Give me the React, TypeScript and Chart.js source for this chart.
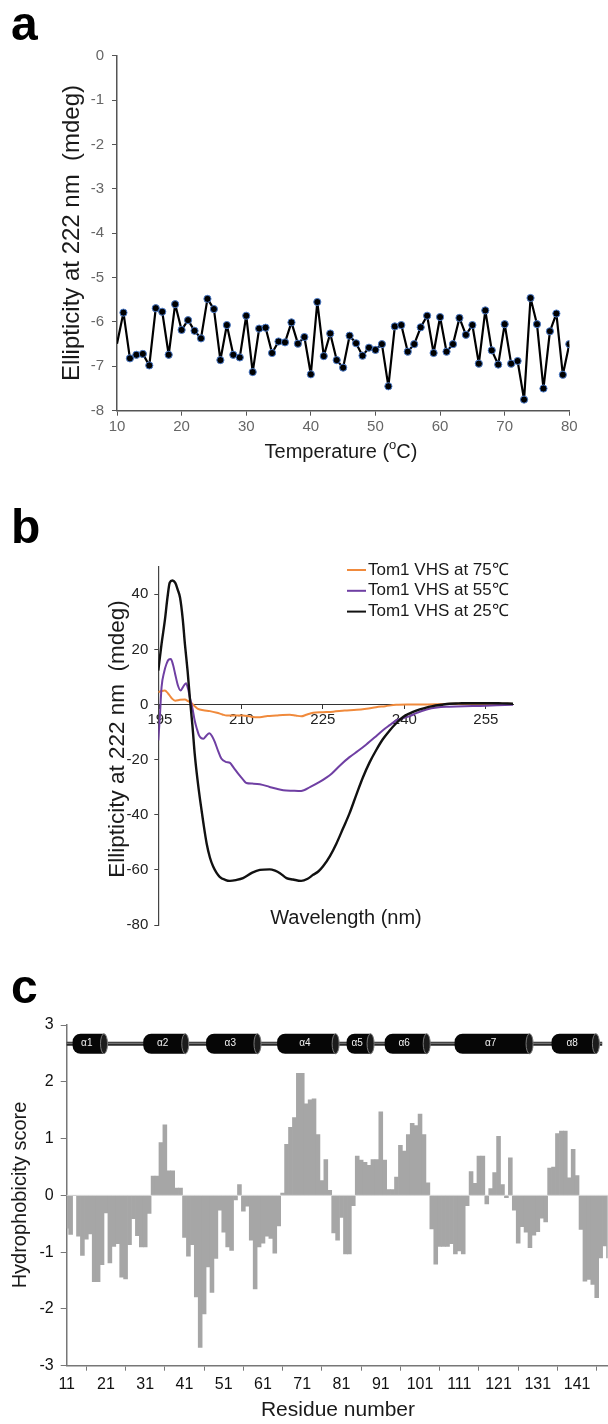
import React, { useEffect, useRef } from 'react';
import { Chart, registerables } from 'chart.js';

Chart.register(...registerables);

const FONT = '"Liberation Sans", Arial, Helvetica, sans-serif';
Chart.defaults.font.family = FONT;

// ---------------- Panel a : thermal scan at 222 nm ----------------
const temperatureC = [
  10, 11, 12, 13, 14, 15, 16, 17, 18, 19, 20, 21, 22, 23, 24, 25, 26, 27, 28, 29,
  30, 31, 32, 33, 34, 35, 36, 37, 38, 39, 40, 41, 42, 43, 44, 45, 46, 47, 48, 49,
  50, 51, 52, 53, 54, 55, 56, 57, 58, 59, 60, 61, 62, 63, 64, 65, 66, 67, 68, 69,
  70, 71, 72, 73, 74, 75, 76, 77, 78, 79, 80,
];
const ellipticity222 = [
  -6.49, -5.79, -6.82, -6.74, -6.72, -6.98, -5.69, -5.77, -6.74, -5.6, -6.18, -5.96, -6.2, -6.37, -5.48, -5.71, -6.86, -6.07, -6.74, -6.8,
  -5.86, -7.13, -6.15, -6.13, -6.7, -6.44, -6.46, -6.01, -6.49, -6.34, -7.18, -5.55, -6.77, -6.26, -6.86, -7.03, -6.31, -6.48, -6.76, -6.58,
  -6.63, -6.5, -7.45, -6.1, -6.07, -6.67, -6.5, -6.12, -5.86, -6.7, -5.89, -6.67, -6.5, -5.91, -6.29, -6.07, -6.94, -5.74, -6.64, -6.96,
  -6.05, -6.94, -6.88, -7.75, -5.46, -6.05, -7.5, -6.21, -5.81, -7.19, -6.5,
];
const aTicksX = [10, 20, 30, 40, 50, 60, 70, 80];
const aTicksY = [0, -1, -2, -3, -4, -5, -6, -7, -8];

// ---------------- Panel b : CD spectra ----------------
const cdLabels = ['Tom1 VHS at 75\u2103', 'Tom1 VHS at 55\u2103', 'Tom1 VHS at 25\u2103'];
const cdColors = ['#f08a3c', '#6f3fa3', '#111111'];

const wavelength75 = [
  194.7, 195.3, 195.9, 196.5, 197.2, 197.8, 198.7, 199.6, 200.2, 200.8, 201.4, 202.0, 203.0, 204.2, 205.5, 206.5,
  207.3, 208.5, 210.3, 211.5, 212.5, 213.4, 214.8, 216.4, 217.6, 218.9, 220.0, 221.0, 222.1, 223.2, 225.0, 226.9,
  229.0, 231.2, 233.0, 234.8, 236.5, 238.5, 240.5, 243.0, 246.0, 249.0, 252.0, 255.0, 258.0, 260.0,
];
const ellipticity75 = [
  4.5, 4.9, 5.1, 4.0, 2.2, 1.4, 1.7, 1.8, 1.2, 0.5, -0.6, -1.6, -2.1, -2.4, -3.0, -3.6,
  -4.0, -4.0, -4.0, -4.3, -4.6, -4.6, -4.2, -4.0, -3.8, -3.7, -4.0, -4.3, -3.6, -3.0, -2.8, -2.6,
  -2.2, -1.9, -1.5, -1.0, -0.6, -0.1, 0.0, 0.0, 0.1, 0.3, 0.4, 0.4, 0.3, 0.2,
];
const wavelength55 = [
  194.7, 195.0, 195.3, 195.8, 196.2, 196.6, 197.0, 197.4, 197.8, 198.3, 198.8, 199.3, 199.8, 200.2, 200.5, 201.0,
  201.4, 201.8, 202.2, 202.6, 203.0, 203.5, 204.1, 204.6, 205.1, 205.7, 206.3, 207.1, 207.9, 208.6, 209.4, 210.2,
  210.9, 212.0, 213.4, 215.2, 216.5, 217.7, 219.5, 221.0, 222.7, 224.4, 225.5, 226.6, 228.2, 229.9, 231.5, 233.0,
  234.5, 236.0, 237.3, 238.5, 240.0, 241.0, 242.2, 244.1, 246.0, 248.3, 251.0, 254.0, 257.0, 260.0,
];
const ellipticity55 = [
  -13.0, -4.0, 6.3, 12.0, 14.7, 16.3, 16.5, 14.5, 11.1, 7.0, 5.1, 6.5, 7.7, 5.5, 2.6, -1.5,
  -5.8, -8.8, -11.2, -12.2, -12.4, -11.4, -10.4, -11.5, -13.6, -16.8, -19.6, -20.8, -21.2, -23.0, -25.1, -27.0,
  -28.5, -28.7, -28.9, -29.9, -30.6, -31.1, -31.3, -31.4, -29.9, -28.1, -26.7, -25.1, -22.0, -19.1, -16.8, -14.5,
  -12.0, -9.4, -7.5, -5.8, -4.8, -4.2, -3.1, -1.8, -1.1, -0.8, -0.6, -0.5, -0.3, -0.1,
];
const wavelength25 = [
  194.7, 195.3, 195.9, 196.4, 196.8, 197.3, 197.8, 198.3, 198.7, 199.2, 199.6, 200.1, 200.5, 201.0, 201.4, 201.9,
  202.4, 203.0, 203.6, 204.2, 204.8, 205.4, 206.0, 207.0, 207.9, 209.0, 210.3, 212.0, 213.4, 215.2, 216.2, 217.1,
  218.3, 219.5, 221.0, 222.2, 223.2, 224.2, 225.0, 226.3, 227.5, 228.7, 229.9, 231.2, 232.4, 233.6, 234.8, 236.0,
  237.3, 238.5, 239.7, 241.0, 242.2, 243.7, 245.2, 246.8, 248.3, 250.0, 252.0, 254.0, 256.0, 258.0, 260.0,
];
const ellipticity25 = [
  12.3, 22.0, 30.4, 39.0, 44.2, 45.0, 44.2, 41.5, 38.8, 31.0, 21.9, 12.0, 2.6, -8.0, -17.8, -27.0,
  -34.7, -43.0, -50.4, -55.5, -58.8, -61.0, -62.5, -63.6, -64.0, -63.7, -63.0, -61.0, -60.0, -59.8, -60.3, -61.2,
  -63.0, -63.5, -64.0, -63.2, -61.8, -60.5, -58.8, -55.0, -50.4, -45.0, -39.5, -32.5, -26.3, -21.0, -16.6, -12.7,
  -9.4, -6.8, -4.6, -3.2, -2.2, -1.3, -0.6, -0.1, 0.3, 0.4, 0.5, 0.5, 0.5, 0.4, 0.3,
];
const bTicksX = [195, 210, 225, 240, 255];
const bTicksY = [-80, -60, -40, -20, 0, 20, 40];

// ---------------- Panel c : hydrophobicity ----------------
const residueNumber = [
  11, 12, 13, 14, 15, 16, 17, 18, 19, 20, 21, 22, 23, 24, 25, 26, 27, 28, 29, 30,
  31, 32, 33, 34, 35, 36, 37, 38, 39, 40, 41, 42, 43, 44, 45, 46, 47, 48, 49, 50,
  51, 52, 53, 54, 55, 56, 57, 58, 59, 60, 61, 62, 63, 64, 65, 66, 67, 68, 69, 70,
  71, 72, 73, 74, 75, 76, 77, 78, 79, 80, 81, 82, 83, 84, 85, 86, 87, 88, 89, 90,
  91, 92, 93, 94, 95, 96, 97, 98, 99, 100, 101, 102, 103, 104, 105, 106, 107, 108, 109, 110,
  111, 112, 113, 114, 115, 116, 117, 118, 119, 120, 121, 122, 123, 124, 125, 126, 127, 128, 129, 130,
  131, 132, 133, 134, 135, 136, 137, 138, 139, 140, 141, 142, 143, 144, 145, 146, 147, 148, 149,
];
const hydrophobicity = [
  -0.58, -0.69, 0, -0.72, -1.06, -0.77, -0.68, -1.52, -1.52, -1.22, -0.31, -1.19, -0.9, -0.85, -1.44, -1.47, -0.87, -0.41, -0.71, -0.91,
  -0.91, -0.32, 0.34, 0.34, 0.93, 1.24, 0.43, 0.43, 0.13, 0.13, -0.74, -1.07, -0.87, -1.79, -2.68, -2.09, -1.26, -1.71, -1.11, -0.26,
  -0.65, -0.91, -0.97, -0.08, 0.19, -0.28, -0.19, -0.79, -1.65, -0.91, -0.84, -0.72, -0.76, -1.02, -0.54, 0.04, 0.9, 1.2, 1.37, 2.15,
  2.15, 1.61, 1.68, 1.7, 1.07, 0.26, 0.63, 0.09, -0.66, -0.79, -0.39, -1.03, -1.03, -0.18, 0.69, 0.62, 0.58, 0.53, 0.63, 0.63,
  1.47, 0.62, 0.1, 0.1, 0.32, 0.88, 0.78, 1.07, 1.27, 1.23, 1.43, 1.07, 0.22, -0.59, -1.21, -0.9, -0.9, -0.9, -0.85, -1.03,
  -0.98, -1.03, -0.18, 0.42, 0.21, 0.69, 0.69, -0.15, 0.12, 0.4, 1.04, 0.19, -0.04, 0.66, -0.26, -0.84, -0.55, -0.65, -0.92, -0.7,
  -0.64, -0.4, -0.47, 0.48, 0.5, 1.09, 1.13, 1.13, 0.31, 0.81, 0.35, -0.6, -1.51, -1.48, -1.57, -1.8, -1.1, -0.89, -1.1,
];
const cTicksX = [11, 21, 31, 41, 51, 61, 71, 81, 91, 101, 111, 121, 131, 141];
const cTicksY = [-3, -2, -1, 0, 1, 2, 3];
const helixLabels = ['\u03b11', '\u03b12', '\u03b13', '\u03b14', '\u03b15', '\u03b16', '\u03b17', '\u03b18'];
const helixStart = [12.5, 30.5, 46.5, 64.6, 82.3, 92.0, 109.8, 134.5];
const helixEnd = [20.5, 41.2, 59.6, 79.5, 88.4, 102.7, 128.9, 145.8];
const rodStart = 11;
const rodEnd = 147.4;
const rodLevel = 2.67;

// ---------------- helpers ----------------
const setTicks = (vals: number[]) => (s: any) => {
  s.ticks = vals.map((v) => ({ value: v }));
};
const fixWidth = (w: number) => (s: any) => {
  s.width = w;
};
const fixHeight = (h: number) => (s: any) => {
  s.height = h;
};

type Part = { t: string; size: number; dy?: number; weight?: string };
type TextItem = {
  x: number;
  y: number;
  parts: Part[];
  rotate?: number;
  color?: string;
  align?: 'left' | 'center';
  baseline?: CanvasTextBaseline;
};

function textPlugin(id: string, items: TextItem[]) {
  return {
    id,
    afterDraw(chart: any) {
      const ctx: CanvasRenderingContext2D = chart.ctx;
      items.forEach((it) => {
        ctx.save();
        ctx.translate(it.x, it.y);
        if (it.rotate) ctx.rotate(it.rotate);
        ctx.fillStyle = it.color ?? '#1a1a1a';
        ctx.textBaseline = it.baseline ?? 'middle';
        ctx.textAlign = 'left';
        const fontOf = (p: Part) => `${p.weight ?? 'normal'} ${p.size}px ${FONT}`;
        let total = 0;
        it.parts.forEach((p) => {
          ctx.font = fontOf(p);
          total += ctx.measureText(p.t).width;
        });
        let x = it.align === 'left' ? 0 : -total / 2;
        it.parts.forEach((p) => {
          ctx.font = fontOf(p);
          ctx.fillText(p.t, x, p.dy ?? 0);
          x += ctx.measureText(p.t).width;
        });
        ctx.restore();
      });
    },
  };
}

const cdLegendPlugin = {
  id: 'cdLegend',
  afterDraw(chart: any) {
    const ctx: CanvasRenderingContext2D = chart.ctx;
    ctx.save();
    chart.data.datasets.forEach((ds: any, i: number) => {
      const y = 80 + i * 20.8;
      ctx.strokeStyle = ds.borderColor;
      ctx.lineWidth = 2;
      ctx.beginPath();
      ctx.moveTo(347, y);
      ctx.lineTo(366, y);
      ctx.stroke();
      ctx.fillStyle = '#1a1a1a';
      ctx.font = `17px ${FONT}`;
      ctx.textBaseline = 'middle';
      ctx.textAlign = 'left';
      ctx.fillText(ds.label, 368, y);
    });
    ctx.restore();
  },
};

const helixPlugin = {
  id: 'helices',
  afterDatasetsDraw(chart: any) {
    const ctx: CanvasRenderingContext2D = chart.ctx;
    const xs = chart.scales.x;
    const ys = chart.scales.y;
    const area = chart.chartArea;
    ctx.save();
    // zero line
    const y0 = ys.getPixelForValue(0);
    ctx.strokeStyle = '#d6d6d6';
    ctx.lineWidth = 1;
    ctx.beginPath();
    ctx.moveTo(area.left, y0);
    ctx.lineTo(area.right, y0);
    ctx.stroke();
    // rod
    const y = ys.getPixelForValue(rodLevel);
    ctx.strokeStyle = '#2a2a2a';
    ctx.lineWidth = 4;
    ctx.beginPath();
    ctx.moveTo(xs.getPixelForValue(rodStart), y);
    ctx.lineTo(xs.getPixelForValue(rodEnd), y);
    ctx.stroke();
    ctx.strokeStyle = '#8a8a8a';
    ctx.lineWidth = 1;
    ctx.beginPath();
    ctx.moveTo(xs.getPixelForValue(rodStart), y - 0.5);
    ctx.lineTo(xs.getPixelForValue(rodEnd), y - 0.5);
    ctx.stroke();
    const h = 20;
    const r = 8;
    helixStart.forEach((s, i) => {
      const x0 = xs.getPixelForValue(s);
      const x1 = xs.getPixelForValue(helixEnd[i]);
      ctx.fillStyle = '#060606';
      ctx.beginPath();
      ctx.moveTo(x1, y - h / 2);
      ctx.lineTo(x0 + r, y - h / 2);
      ctx.arcTo(x0, y - h / 2, x0, y, r);
      ctx.arcTo(x0, y + h / 2, x0 + r, y + h / 2, r);
      ctx.lineTo(x1, y + h / 2);
      ctx.closePath();
      ctx.fill();
      ctx.beginPath();
      ctx.ellipse(x1, y, 3.5, h / 2, 0, 0, Math.PI * 2);
      ctx.fillStyle = '#1c1c1c';
      ctx.fill();
      ctx.strokeStyle = '#777';
      ctx.lineWidth = 1;
      ctx.stroke();
      ctx.fillStyle = '#f0f0f0';
      ctx.font = `10px ${FONT}`;
      ctx.textAlign = 'center';
      ctx.textBaseline = 'middle';
      ctx.fillText(helixLabels[i], (x0 + x1 - 3) / 2, y);
    });
    ctx.restore();
  },
};

const W = 608;
const A_H = 490;
const B_TOP = 490;
const B_H = 460;
const C_TOP = 950;
const C_H = 474;

export default function App() {
  const aRef = useRef<HTMLCanvasElement>(null);
  const bRef = useRef<HTMLCanvasElement>(null);
  const cRef = useRef<HTMLCanvasElement>(null);

  useEffect(() => {
    const charts: Chart[] = [];

    // ---------- panel a ----------
    charts.push(
      new Chart(aRef.current!, {
        type: 'line',
        data: {
          datasets: [
            {
              data: temperatureC.map((t, i) => ({ x: t, y: ellipticity222[i] })),
              borderColor: '#000',
              borderWidth: 2.2,
              borderJoinStyle: 'round',
              tension: 0,
              pointRadius: temperatureC.map((t, i) => (i === 0 ? 0 : 3.6)),
              pointBackgroundColor: '#000',
              pointBorderColor: '#4d7cc9',
              pointBorderWidth: 1,
            },
          ],
        },
        options: {
          animation: false,
          responsive: false,
          layout: { padding: { left: 0, top: 55.7, right: W - 569.3, bottom: 0 } },
          plugins: { legend: { display: false }, tooltip: { enabled: false } },
          scales: {
            x: {
              type: 'linear',
              min: 10,
              max: 80,
              afterBuildTicks: setTicks(aTicksX),
              afterFit: fixHeight(A_H - 410.7),
              ticks: { color: '#666', font: { size: 15 }, padding: 2, callback: (v: any) => String(v) },
              grid: { drawOnChartArea: false, drawTicks: true, tickLength: 5, color: '#555' },
              border: { color: '#555', width: 1.5 },
            },
            y: {
              type: 'linear',
              min: -8,
              max: 0,
              afterBuildTicks: setTicks(aTicksY),
              afterFit: fixWidth(117),
              ticks: { color: '#666', font: { size: 15 }, padding: 8, callback: (v: any) => String(v) },
              grid: { drawOnChartArea: false, drawTicks: true, tickLength: 5, color: '#555' },
              border: { color: '#555', width: 1.5 },
            },
          },
        },
        plugins: [
          textPlugin('aText', [
            { x: 11, y: 40, parts: [{ t: 'a', size: 48, weight: 'bold' }], align: 'left', baseline: 'alphabetic', color: '#000' },
            { x: 72, y: 233, rotate: -Math.PI / 2, parts: [{ t: 'Ellipticity at 222 nm  (mdeg)', size: 24 }] },
            {
              x: 341,
              y: 452,
              parts: [
                { t: 'Temperature (', size: 20 },
                { t: 'o', size: 13, dy: -7 },
                { t: 'C)', size: 20 },
              ],
            },
          ]),
        ],
      } as any)
    );

    // ---------- panel b ----------
    const bSeries = [
      [wavelength75, ellipticity75],
      [wavelength55, ellipticity55],
      [wavelength25, ellipticity25],
    ];
    charts.push(
      new Chart(bRef.current!, {
        type: 'line',
        data: {
          datasets: bSeries.map(([wl, v], k) => ({
            label: cdLabels[k],
            data: wl.map((w, i) => ({ x: w, y: v[i] })),
            borderColor: cdColors[k],
            borderWidth: k === 2 ? 2.4 : 2,
            borderJoinStyle: 'round',
            pointRadius: 0,
            tension: 0.4,
            cubicInterpolationMode: 'monotone',
            order: 2 - k,
          })),
        },
        options: {
          animation: false,
          responsive: false,
          layout: { padding: { left: 0, top: 76.7, right: W - 513, bottom: B_H - 435 } },
          plugins: { legend: { display: false }, tooltip: { enabled: false } },
          scales: {
            x: {
              type: 'linear',
              min: 194.7,
              max: 260,
              position: { y: 0 },
              afterBuildTicks: setTicks(bTicksX),
              ticks: { color: '#222', font: { size: 15 }, padding: 2, callback: (v: any) => String(v) },
              grid: { drawOnChartArea: false, drawTicks: true, tickLength: 4, color: '#333' },
              border: { color: '#333', width: 1 },
            },
            y: {
              type: 'linear',
              min: -80,
              max: 50,
              afterBuildTicks: setTicks(bTicksY),
              afterFit: fixWidth(158.3),
              ticks: { color: '#222', font: { size: 15 }, padding: 6, callback: (v: any) => String(v) },
              grid: { drawOnChartArea: false, drawTicks: true, tickLength: 4, color: '#444' },
              border: { color: '#444', width: 1.2 },
            },
          },
        },
        plugins: [
          cdLegendPlugin,
          textPlugin('bText', [
            { x: 11, y: 53, parts: [{ t: 'b', size: 48, weight: 'bold' }], align: 'left', baseline: 'alphabetic', color: '#000' },
            { x: 118, y: 249, rotate: -Math.PI / 2, parts: [{ t: 'Ellipticity at 222 nm  (mdeg)', size: 22.5 }] },
            { x: 346, y: 428, parts: [{ t: 'Wavelength (nm)', size: 20 }] },
          ]),
        ],
      } as any)
    );

    // ---------- panel c ----------
    charts.push(
      new Chart(cRef.current!, {
        type: 'bar',
        data: {
          datasets: [
            {
              data: residueNumber.map((r, i) => ({ x: r, y: hydrophobicity[i] })),
              backgroundColor: '#a6a6a6',
              borderWidth: 0,
              barPercentage: 1,
              categoryPercentage: 1,
            },
          ],
        },
        options: {
          animation: false,
          responsive: false,
          layout: { padding: { left: 0, top: 75, right: 0.3, bottom: 0 } },
          plugins: { legend: { display: false }, tooltip: { enabled: false } },
          scales: {
            x: {
              type: 'linear',
              min: 11,
              max: 148.8,
              offset: false,
              afterBuildTicks: setTicks(cTicksX),
              afterFit: fixHeight(C_H - 415.7),
              ticks: { color: '#111', font: { size: 16 }, padding: 4, callback: (v: any) => String(v) },
              grid: { drawOnChartArea: false, drawTicks: true, tickLength: 5, color: '#777' },
              border: { color: '#777', width: 1.5 },
            },
            y: {
              type: 'linear',
              min: -3,
              max: 3,
              afterBuildTicks: setTicks(cTicksY),
              afterFit: fixWidth(66.7),
              ticks: { color: '#111', font: { size: 16 }, padding: 7, callback: (v: any) => String(v) },
              grid: { drawOnChartArea: false, drawTicks: true, tickLength: 6, color: '#777' },
              border: { color: '#777', width: 1.5 },
            },
          },
        },
        plugins: [
          helixPlugin,
          textPlugin('cText', [
            { x: 11, y: 53, parts: [{ t: 'c', size: 48, weight: 'bold' }], align: 'left', baseline: 'alphabetic', color: '#000' },
            { x: 20, y: 245, rotate: -Math.PI / 2, parts: [{ t: 'Hydrophobicity score', size: 20 }] },
            { x: 338, y: 460, parts: [{ t: 'Residue number', size: 21 }] },
          ]),
        ],
      } as any)
    );

    return () => charts.forEach((c) => c.destroy());
  }, []);

  const canvasStyle = (top: number): React.CSSProperties => ({ position: 'absolute', left: 0, top, display: 'block' });

  return (
    <div style={{ position: 'absolute', left: 0, top: 0, width: W, height: 1424, background: '#fff' }}>
      <canvas ref={aRef} width={W} height={A_H} style={canvasStyle(0)} />
      <canvas ref={bRef} width={W} height={B_H} style={canvasStyle(B_TOP)} />
      <canvas ref={cRef} width={W} height={C_H} style={canvasStyle(C_TOP)} />
    </div>
  );
}
